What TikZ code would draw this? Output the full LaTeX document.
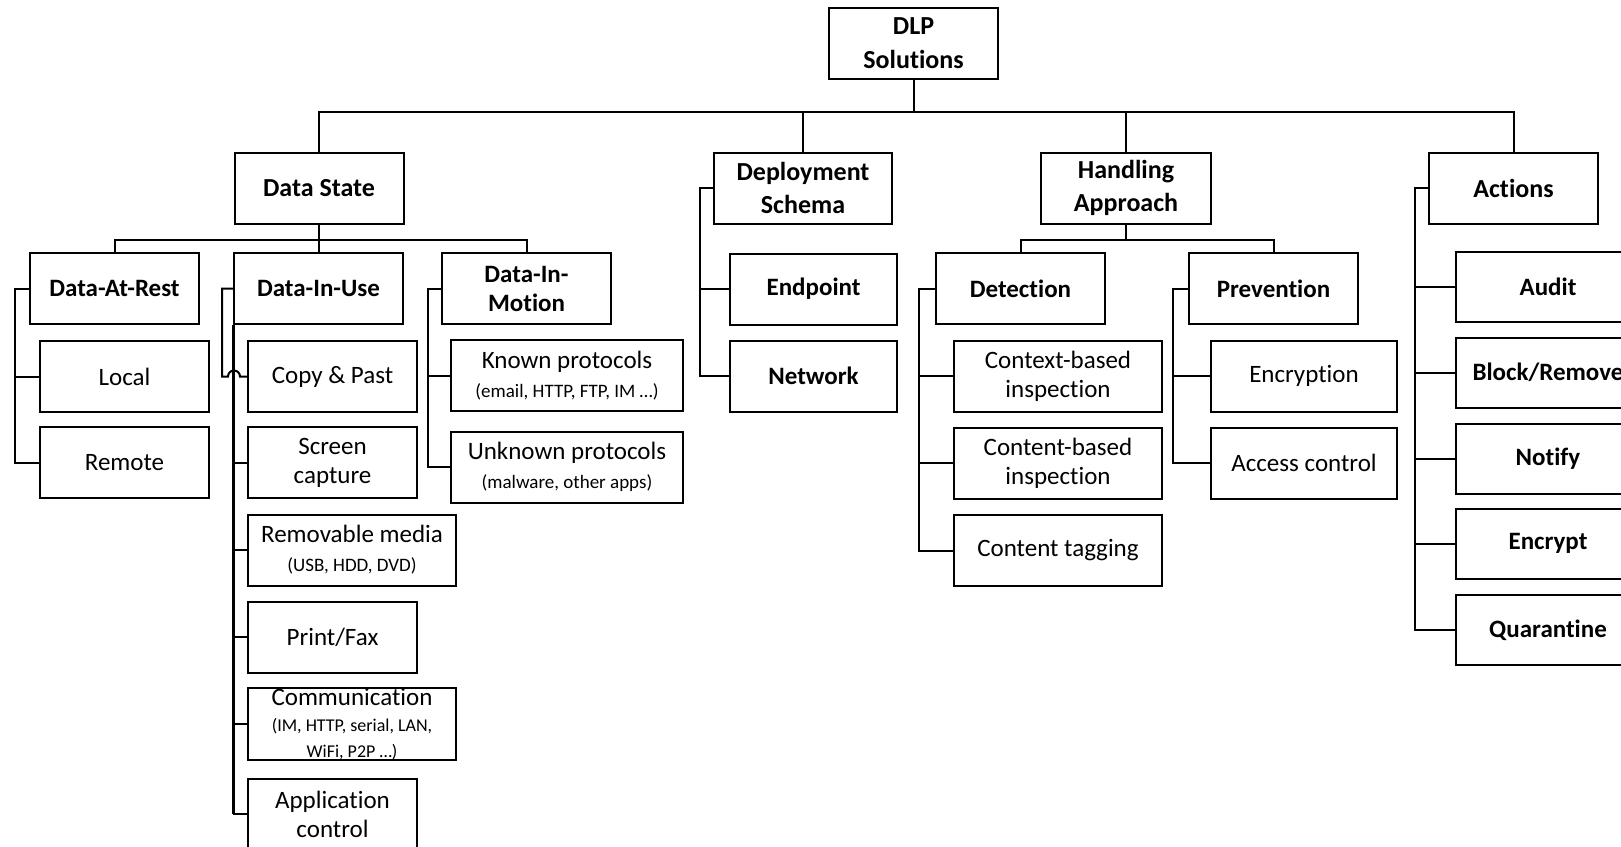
\documentclass[tikz,border=0pt]{standalone}
\usepackage{fontspec}
\setmainfont[Ligatures=NoCommon]{Carlito}

\tikzset{
  box/.style={draw, line width=1pt, inner sep=0pt, align=center,
    minimum width=84.5pt, minimum height=35.5pt,
    font=\fontsize{12.5}{14.5}\selectfont},
  boldbox/.style={box, font=\fontsize{12.5}{14.5}\selectfont\bfseries},
  headbox/.style={box, font=\fontsize{13}{16.5}\selectfont\bfseries},
  wbox/.style={box, minimum width=104pt},
  pbox/.style={box, minimum width=116pt},
  ebox/.style={box, minimum width=93pt},
  abox/.style={boldbox, minimum width=92pt, minimum height=35pt},
  link/.style={line width=1pt},
}
\newcommand{\smalltxt}[1]{{\fontsize{9.5}{11}\selectfont #1}}
\newcommand{\tinytxt}[1]{{\fontsize{9}{11}\selectfont #1}}

\begin{document}
\begin{tikzpicture}[x=0.5pt, y=-0.5pt]
  \useasboundingbox (0,0) rectangle (1621,846);
  \clip (0,0) rectangle (1621,846);

  % first levels
  \node[headbox, font=\fontsize{13}{17}\selectfont\bfseries] (DLP) at (913.5,43.5) {DLP\\Solutions};
  \node[headbox] (State) at (319,188) {Data State};
  \node[headbox, minimum width=89pt] (Deploy) at (803,188) {Deployment\\Schema};
  \node[headbox, minimum width=85pt] (Handle) at (1126,188) {Handling\\Approach};
  \node[headbox] (Act) at (1513.5,188) {Actions};

  % data state
  \node[boldbox] (Rest) at (114.5,288.5) {Data-At-Rest};
  \node[boldbox] (InUse) at (318.5,288.5) {Data-In-Use};
  \node[boldbox] (Motion) at (526.5,288.5) {Data-In-\\Motion};
  \node[box] (Local) at (124.5,376.5) {Local};
  \node[box] (Remote) at (124.5,462.5) {Remote};
  \node[box] (Copy) at (332.5,376.5) {Copy \& Past};
  \node[box] (Screen) at (332.5,462.5) {Screen\\capture};
  \node[wbox] (Media) at (352,550) {Removable media\\\smalltxt{(USB, HDD, DVD)}};
  \node[box] (Print) at (332.5,637) {Print/Fax};
  \node[wbox] (Comm) at (352,724) {Communication\\[-1.5pt]\tinytxt{(IM, HTTP, serial, LAN,}\\[-1.5pt]\tinytxt{WiFi, P2P …)}};
  \node[box] (App) at (332.5,814) {Application\\control};
  \node[pbox] (Known) at (567,375.5) {Known protocols\\\smalltxt{(email, HTTP, FTP, IM …)}};
  \node[pbox] (Unknown) at (567,467) {Unknown protocols\\\smalltxt{(malware, other apps)}};

  % deployment
  \node[boldbox, minimum width=83.5pt] (Endpoint) at (813.5,289) {Endpoint};
  \node[boldbox, minimum width=83.5pt] (Network) at (813.5,376) {Network};

  % handling
  \node[boldbox] (Detect) at (1020.5,288.5) {Detection};
  \node[boldbox] (Prevent) at (1273.5,288.5) {Prevention};
  \node[wbox] (Context) at (1058,376) {Context-based\\inspection};
  \node[wbox] (Content) at (1058,463) {Content-based\\inspection};
  \node[wbox] (Tagging) at (1058,550.5) {Content tagging};
  \node[ebox] (Encryption) at (1304,376) {Encryption};
  \node[ebox] (Access) at (1304,463) {Access control};

  % actions
  \node[abox] (Audit) at (1548,287) {Audit};
  \node[abox] (Block) at (1548,372.5) {Block/Remove};
  \node[abox] (Notify) at (1548,458.5) {Notify};
  \node[abox] (Encr) at (1548,543.5) {Encrypt};
  \node[abox] (Quar) at (1548,630) {Quarantine};

  % buses
  \coordinate (TopBus) at (913.5,112);
  \draw[link] (DLP) -- (TopBus);
  \draw[link] (State) |- (TopBus) -| (Act);
  \draw[link] (Deploy) -- (Deploy |- TopBus);
  \draw[link] (Handle) -- (Handle |- TopBus);

  \coordinate (StateBus) at (319,240);
  \draw[link] (State) -- (StateBus);
  \draw[link] (Rest) |- (StateBus) -| (Motion);
  \draw[link] (InUse) -- (InUse |- StateBus);

  \coordinate (HandleBus) at (1126,240);
  \draw[link] (Handle) -- (HandleBus);
  \draw[link] (Detect) |- (HandleBus) -| (Prevent);

  % brackets
  \coordinate (RestSpine) at (15,288.5);
  \draw[link] (Rest) -- (RestSpine) |- (Remote);
  \draw[link] (RestSpine |- Local) -- (Local);

  \coordinate (UseSpine) at (222,288.5);
  \coordinate (Hop) at (228,376.5);
  \draw[link] (InUse) -- (UseSpine) |- (Hop) arc[start angle=180, end angle=0, radius=3pt] -- (Copy);
  \draw[line width=1.5pt] (InUse.south west) -- (InUse.south west |- App);
  \foreach \n in {Screen,Media,Print,Comm,App}
    \draw[link] (InUse.south west |- \n) -- (\n);

  \coordinate (MotionSpine) at (428,288.5);
  \draw[link] (Motion) -- (MotionSpine) |- (Unknown);
  \draw[link] (MotionSpine |- Known) -- (Known);

  \coordinate (DeploySpine) at (700,188);
  \draw[link] (Deploy) -- (DeploySpine) |- (Network);
  \draw[link] (DeploySpine |- Endpoint) -- (Endpoint);

  \coordinate (DetectSpine) at (919,288.5);
  \draw[link] (Detect) -- (DetectSpine) |- (Tagging);
  \draw[link] (DetectSpine |- Context) -- (Context);
  \draw[link] (DetectSpine |- Content) -- (Content);

  \coordinate (PreventSpine) at (1173,288.5);
  \draw[link] (Prevent) -- (PreventSpine) |- (Access);
  \draw[link] (PreventSpine |- Encryption) -- (Encryption);

  \coordinate (ActSpine) at (1415,188);
  \draw[link] (Act) -- (ActSpine) |- (Quar);
  \foreach \n in {Audit,Block,Notify,Encr}
    \draw[link] (ActSpine |- \n) -- (\n);
\end{tikzpicture}
\end{document}
